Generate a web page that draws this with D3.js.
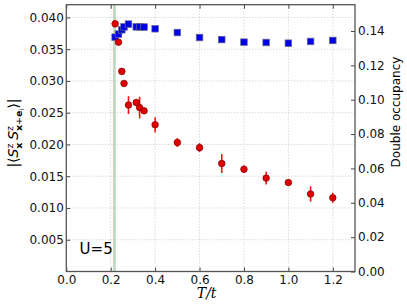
<!DOCTYPE html>
<html lang="en">
<head>
<meta charset="utf-8">
<title>Spin correlation and double occupancy vs T/t</title>
<script src="https://d3js.org/d3.v7.min.js"></script>
<style>
  body { margin: 0; background: #fff; font-family: 'DejaVu Sans', sans-serif; }
  svg text { font-family: 'DejaVu Sans', sans-serif; }
</style>
</head>
<body>
<div id="chart"></div>
<script>

/* Data */
/* ==== */

// temperatures (T/t) shared by both series
var temps = [0.22, 0.235, 0.25, 0.26, 0.28, 0.315, 0.33, 0.35, 0.4, 0.5, 0.6, 0.7, 0.8, 0.9, 1.0, 1.1, 1.2];

// nearest-neighbour spin correlation (left axis), with error bars
var spinCorr = [0.0390, 0.0361, 0.0315, 0.0296, 0.0262, 0.0266, 0.0258, 0.0253, 0.0231, 0.0203, 0.0195, 0.0170, 0.0161, 0.0147, 0.0140, 0.0122, 0.0116];
var spinErr  = [0.0006, 0.0005, 0.0002, 0.0004, 0.0014, 0.0005, 0.0017, 0.0002, 0.0012, 0.0007, 0.0007, 0.0015, 0.0006, 0.0010, 0.0001, 0.0012, 0.0008];

// double occupancy (right axis)
var doubleOcc = [0.1364, 0.1382, 0.1407, 0.1424, 0.1440, 0.1424, 0.1424, 0.1423, 0.1413, 0.1391, 0.1362, 0.1350, 0.1335, 0.1333, 0.1329, 0.1339, 0.1345];

// tick labels
var xTicks = [0.0, 0.2, 0.4, 0.6, 0.8, 1.0, 1.2];
var leftTicks = [0.005, 0.010, 0.015, 0.020, 0.025, 0.030, 0.035, 0.040];
var rightTicks = [0.00, 0.02, 0.04, 0.06, 0.08, 0.10, 0.12, 0.14];

// shaded critical temperature band
var band = [0.21, 0.223];


/* Setup */
/* ===== */

var width = 407,
    height = 307,
    margin = { top: 4.7, right: 52, bottom: 35.5, left: 66.3 };

var plotW = width - margin.left - margin.right,
    plotH = height - margin.top - margin.bottom;

var svg = d3.select('#chart').append('svg')
    .attr('width', width)
    .attr('height', height);

var g = svg.append('g')
    .attr('transform', 'translate(' + margin.left + ',' + margin.top + ')');

var x = d3.scaleLinear().domain([0, 1.3]).range([0, plotW]);
var yL = d3.scaleLinear().domain([0, 0.042]).range([plotH, 0]);
var yR = d3.scaleLinear().domain([0, 0.1553]).range([plotH, 0]);


/* Grid */
/* ---- */

g.append('g').selectAll('line').data(xTicks.slice(1)).join('line')
    .attr('x1', function(d) { return x(d); })
    .attr('x2', function(d) { return x(d); })
    .attr('y1', 0).attr('y2', plotH)
    .attr('stroke', '#c8c8c8').attr('stroke-width', 1)
    .attr('stroke-dasharray', '1,2');

g.append('g').selectAll('line').data(leftTicks).join('line')
    .attr('x1', 0).attr('x2', plotW)
    .attr('y1', function(d) { return yL(d); })
    .attr('y2', function(d) { return yL(d); })
    .attr('stroke', '#c8c8c8').attr('stroke-width', 1)
    .attr('stroke-dasharray', '1,2');


/* Band */
/* ---- */

g.append('rect')
    .attr('x', x(band[0]))
    .attr('width', x(band[1]) - x(band[0]))
    .attr('y', 0).attr('height', plotH)
    .attr('fill', '#9cc09c').attr('opacity', 0.6);


/* Axes */
/* ---- */

var xAxis = d3.axisBottom(x).tickValues(xTicks).tickSize(-4).tickPadding(3.5)
    .tickFormat(d3.format('.1f'));
var xTop = d3.axisTop(x).tickValues(xTicks).tickSize(-4).tickFormat('');
var leftAxis = d3.axisLeft(yL).tickValues(leftTicks).tickSize(-4).tickPadding(2.5)
    .tickFormat(d3.format('.3f'));
var rightAxis = d3.axisRight(yR).tickValues(rightTicks).tickSize(-4).tickPadding(3)
    .tickFormat(d3.format('.2f'));

function styleAxis(sel) {
  sel.select('.domain').remove();
  sel.selectAll('.tick line').attr('stroke', '#444');
  sel.selectAll('.tick text').attr('font-size', 12).attr('fill', '#111')
      .style('font-family', "'DejaVu Sans', sans-serif");
}

g.append('g').attr('transform', 'translate(0,' + plotH + ')').call(xAxis).call(styleAxis);
g.append('g').call(xTop).call(styleAxis);
g.append('g').call(leftAxis).call(styleAxis);
g.append('g').attr('transform', 'translate(' + plotW + ',0)').call(rightAxis).call(styleAxis);

// frame
g.append('rect')
    .attr('x', 0).attr('y', 0).attr('width', plotW).attr('height', plotH)
    .attr('fill', 'none').attr('stroke', '#555').attr('stroke-width', 1.3);


/* Series */
/* ------ */

var pts = temps.map(function(t, i) {
  return { t: t, s: spinCorr[i], e: spinErr[i], d: doubleOcc[i] };
});

// blue squares: double occupancy
g.append('g').selectAll('rect').data(pts).join('rect')
    .attr('x', function(d) { return x(d.t) - 3.3; })
    .attr('y', function(d) { return yR(d.d) - 3.3; })
    .attr('width', 6.6).attr('height', 6.6)
    .attr('fill', '#0000e8')
    .attr('stroke', '#6a6a8a').attr('stroke-width', 0.7);

// red error bars
g.append('g').selectAll('line').data(pts).join('line')
    .attr('x1', function(d) { return x(d.t); })
    .attr('x2', function(d) { return x(d.t); })
    .attr('y1', function(d) { return yL(d.s - d.e); })
    .attr('y2', function(d) { return yL(d.s + d.e); })
    .attr('stroke', '#ff1010').attr('stroke-width', 1.6);

// red circles: spin correlation
g.append('g').selectAll('circle').data(pts).join('circle')
    .attr('cx', function(d) { return x(d.t); })
    .attr('cy', function(d) { return yL(d.s); })
    .attr('r', 3.3)
    .attr('fill', '#e00000')
    .attr('stroke', '#7a0000').attr('stroke-width', 0.7);


/* Labels */
/* ------ */

g.append('text')
    .attr('x', x(0.06)).attr('y', plotH - 17.5)
    .attr('font-size', 15).attr('fill', '#000')
    .text('U=5');

// x label
svg.append('text')
    .attr('x', margin.left + plotW / 2 - 4).attr('y', 298)
    .attr('text-anchor', 'middle')
    .style('font-family', "'DejaVu Serif', serif")
    .style('font-style', 'italic')
    .attr('font-size', 14)
    .text('T/t');

// right label
svg.append('text')
    .attr('transform', 'translate(400,112) rotate(-90)')
    .attr('text-anchor', 'middle')
    .attr('font-size', 12)
    .text('Double occupancy');

// left label |<S^z_x S^z_{x+e_i}>|
var lab = svg.append('text')
    .attr('transform', 'translate(18,133) rotate(-90)')
    .attr('text-anchor', 'middle')
    .attr('font-size', 14);

lab.append('tspan').text('|\u27E8');
lab.append('tspan').style('font-style', 'italic').text('S');
lab.append('tspan').attr('font-size', 9.5).attr('dy', -5.5).text('z');
lab.append('tspan').attr('font-size', 9.5).attr('dx', -5.2).attr('dy', 9.5).style('font-weight', 'bold').text('x');
lab.append('tspan').attr('dy', -4).text('\u2009');
lab.append('tspan').style('font-style', 'italic').text('S');
lab.append('tspan').attr('font-size', 9.5).attr('dy', -5.5).text('z');
lab.append('tspan').attr('font-size', 9.5).attr('dx', -5.2).attr('dy', 9.5).style('font-weight', 'bold').text('x');
lab.append('tspan').attr('font-size', 9.5).text('+');
lab.append('tspan').attr('font-size', 9.5).style('font-weight', 'bold').text('e');
lab.append('tspan').attr('font-size', 7).attr('dy', 2).text('i');
lab.append('tspan').attr('dy', -6).text('\u27E9|');

</script>
</body>
</html>
